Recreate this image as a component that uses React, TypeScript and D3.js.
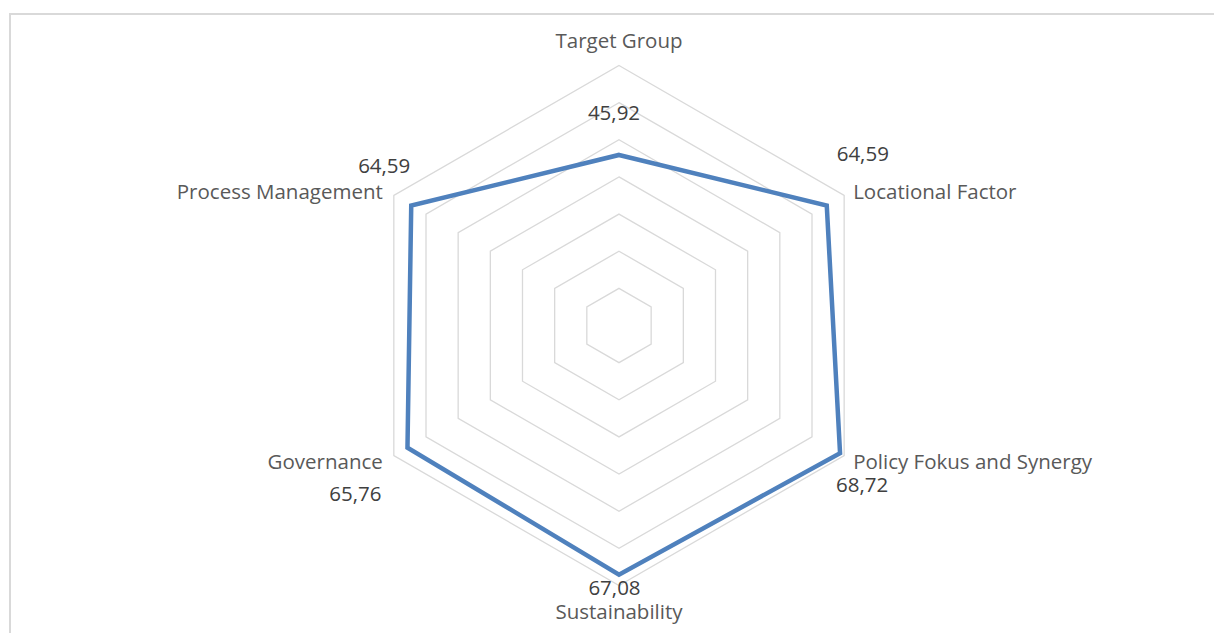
import React from 'react';
import * as d3 from 'd3';

const categories = ['Target Group', 'Locational Factor', 'Policy Fokus and Synergy', 'Sustainability', 'Governance', 'Process Management'];
const values = [45.92, 64.59, 68.72, 67.08, 65.76, 64.59];
const valueLabels = ['45,92', '64,59', '68,72', '67,08', '65,76', '64,59'];
const ringLevels = [10, 20, 30, 40, 50, 60, 70];

// label placement (pixel nudges, like Excel puts them)
const catOffsets = [[0, -26, 'middle'], [9, -5, 'start'], [9, 5, 'start'], [0, 25, 'middle'], [-11, 5, 'end'], [-11, -5, 'end']];
const valOffsets = [[-5, -43], [36, -53], [22, 31], [-4.5, 12.5], [-52, 45], [-27, -41]];

const W = 1214;
const H = 633;
const cx = 619;
const cy = 325.5;
const R = 260;

const App = () => {
    const r = d3.scaleLinear().domain([0, 70]).range([0, R]);
    const angle = (i: number) => (i * 2 * Math.PI) / categories.length;
    const pt = (i: number, v: number) => [cx + r(v) * Math.sin(angle(i)), cy - r(v) * Math.cos(angle(i))];

    const radial = d3.lineRadial<number>()
        .angle((d, i) => angle(i))
        .radius(d => r(d))
        .curve(d3.curveLinearClosed);

    const font = '"Open Sans", sans-serif';

    return (
        <svg width={W} height={H} style={{ position: 'absolute', left: 0, top: 0, background: '#fff' }}>
            {/* chart area border, cropped at right and bottom */}
            <rect x={10} y={14} width={W + 20} height={H + 20} fill="#fff" stroke="#d9d9d9" strokeWidth={2} />

            <g transform={`translate(${cx},${cy})`}>
                {ringLevels.map(l => (
                    <path key={l} d={radial(categories.map(() => l)) || ''} fill="none" stroke="#d9d9d9" strokeWidth={1.3} />
                ))}
                <path d={radial(values) || ''} fill="none" stroke="#4f81bd" strokeWidth={4.5} strokeLinejoin="miter" />
            </g>

            {categories.map((c, i) => {
                const [x, y] = pt(i, 70);
                const o = catOffsets[i];
                return (
                    <text key={c} x={x + (o[0] as number)} y={y + (o[1] as number)} textAnchor={o[2] as any}
                        dominantBaseline="central" fontFamily={font} fontSize={20.5} fill="#595959">{c}</text>
                );
            })}

            {values.map((v, i) => {
                const [x, y] = pt(i, v);
                const o = valOffsets[i];
                return (
                    <text key={i} x={x + o[0]} y={y + o[1]} textAnchor="middle"
                        dominantBaseline="central" fontFamily={font} fontSize={20.5} fill="#404040">{valueLabels[i]}</text>
                );
            })}
        </svg>
    );
};

export default App;
